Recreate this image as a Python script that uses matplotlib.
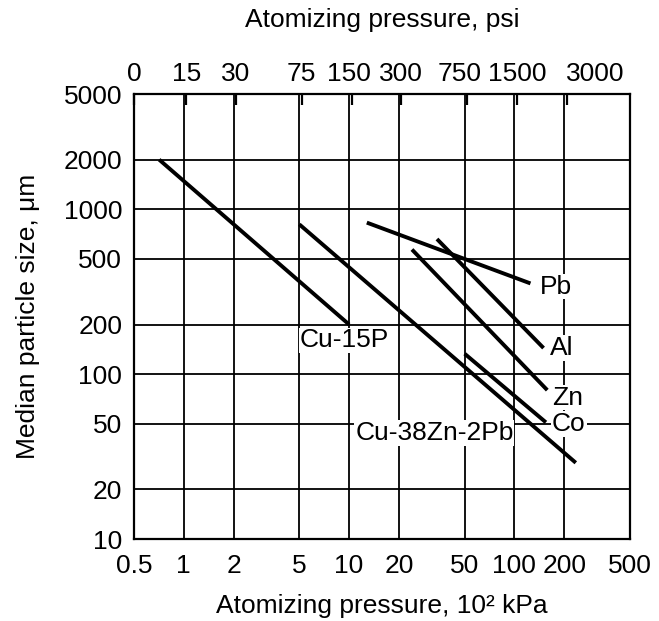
import matplotlib
matplotlib.use("Agg")
import matplotlib.pyplot as plt
import matplotlib.transforms as mtransforms
from matplotlib.ticker import NullLocator

plt.rcParams['font.family'] = ['Liberation Sans', 'DejaVu Sans']

# Bottom axis (10^2 kPa) and left axis (um) ticks
x_ticks = [0.5, 1, 2, 5, 10, 20, 50, 100, 200, 500]
x_labels = ['0.5', '1', '2', '5', '10', '20', '50', '100', '200', '500']
y_ticks = [10, 20, 50, 100, 200, 500, 1000, 2000, 5000]
y_labels = ['10', '20', '50', '100', '200', '500', '1000', '2000', '5000']

# Top axis in psi
psi_values = [0, 15, 30, 75, 150, 300, 750, 1500, 3000]
psi_to_hkpa = 0.06895

# Each alloy line read as its two end points (x in 10^2 kPa, y in um)
cu15p_x = [0.71, 10]
cu15p_y = [2000, 200]
cu38zn_x = [5, 235]
cu38zn_y = [810, 29]
pb_x = [12.8, 125]
pb_y = [830, 355]
al_x = [34, 150]
al_y = [660, 144]
zn_x = [24, 158]
zn_y = [570, 80]
co_x = [50, 155]
co_y = [133, 51]

# label positions (x, y) next to each line
labels = {
    'Cu-15P': (5.0, 160),
    'Cu-38Zn-2Pb': (10.9, 44),
    'Pb': (143, 340),
    'Al': (164, 144),
    'Zn': (169, 72),
    'Co': (169, 50),
}

fs = 19
fig = plt.figure(figsize=(6.59, 6.21), dpi=100)
ax = fig.add_axes([0.2033, 0.132, 0.7527, 0.7166])
ax.set_xscale('log')
ax.set_yscale('log')
ax.set_xlim(0.5, 500)
ax.set_ylim(10, 5000)

lw = 2.8
for xs, ys in [(cu15p_x, cu15p_y), (cu38zn_x, cu38zn_y), (pb_x, pb_y),
               (al_x, al_y), (zn_x, zn_y), (co_x, co_y)]:
    ax.plot(xs, ys, color='black', lw=lw, solid_capstyle='butt', zorder=3)

ax.set_xticks(x_ticks)
ax.set_xticklabels(x_labels)
ax.set_yticks(y_ticks)
ax.set_yticklabels(y_labels)
ax.xaxis.set_minor_locator(NullLocator())
ax.yaxis.set_minor_locator(NullLocator())
ax.tick_params(axis='x', length=0, pad=10.5, labelsize=fs)
ax.tick_params(axis='y', length=0, pad=8.5, labelsize=fs)
ax.grid(True, which='major', color='black', lw=1.3)
for s in ax.spines.values():
    s.set_linewidth(1.6)

for txt, (tx, ty) in labels.items():
    ax.text(tx, ty, txt, fontsize=fs, ha='left', va='center', zorder=4,
            bbox=dict(facecolor='white', edgecolor='none', pad=0.5))

ax.set_xlabel('Atomizing pressure, 10² kPa', fontsize=fs, labelpad=12)
ax.set_ylabel('Median particle size, μm', fontsize=fs, labelpad=17)

# top psi axis
ax2 = ax.twiny()
ax2.set_xscale('log')
ax2.set_xlim(ax.get_xlim())
top_pos = [max(p * psi_to_hkpa, 0.5) for p in psi_values]
ax2.set_xticks(top_pos)
ax2.set_xticklabels([str(p) for p in psi_values])
ax2.xaxis.set_minor_locator(NullLocator())
ax2.tick_params(axis='x', direction='in', length=8, width=1.6, pad=6, labelsize=fs)
# nudge a few crowded psi labels as in the original
shifts = {4: -0.03, 6: -0.07, 8: 0.29}
lbls = ax2.get_xticklabels()
for i, dx in shifts.items():
    lbls[i].set_transform(lbls[i].get_transform() +
                          mtransforms.ScaledTranslation(dx, 0, fig.dpi_scale_trans))
ax2.set_xlabel('Atomizing pressure, psi', fontsize=fs, labelpad=25)
for s in ax2.spines.values():
    s.set_visible(False)

fig.savefig('out.png', dpi=100)
